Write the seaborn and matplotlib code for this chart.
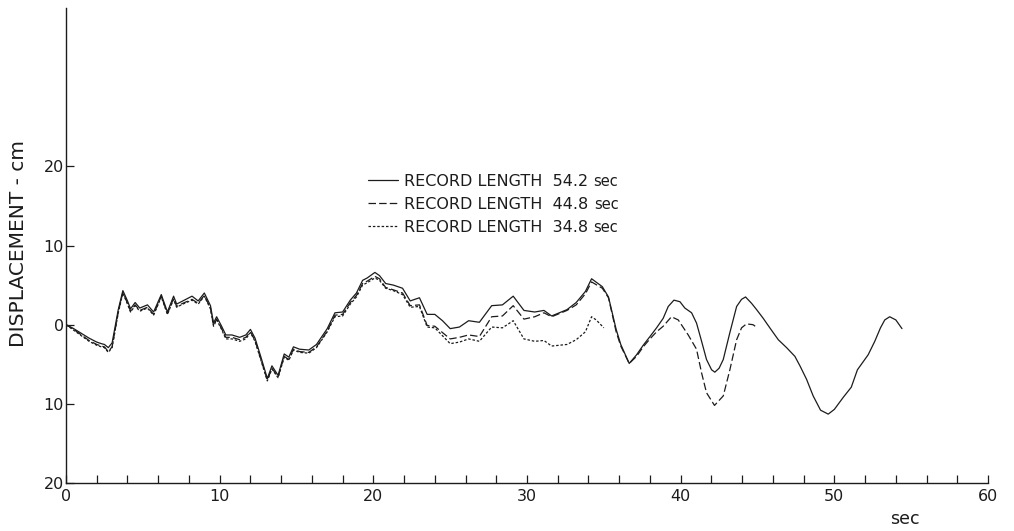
import matplotlib
matplotlib.use("Agg")
import matplotlib.pyplot as plt
import seaborn as sns
import pandas as pd

# time points (sec) common to all three records, up to 34.2 s
t_shared = [0.0, 0.5, 1.0, 1.5, 2.0, 2.3, 2.5, 2.75, 3.0, 3.4, 3.7, 4.0, 4.2, 4.5, 4.8,
            5.3, 5.7, 6.2, 6.6, 7.0, 7.2, 7.6, 8.2, 8.6, 9.0, 9.4, 9.6, 9.8, 10.1, 10.4,
            10.8, 11.3, 11.7, 12.0, 12.3, 12.7, 13.1, 13.4, 13.8, 14.2, 14.5, 14.8, 15.2,
            15.8, 16.3, 17.0, 17.5, 18.0, 18.5, 18.9, 19.3, 19.6, 20.1, 20.4, 20.8, 21.3,
            21.9, 22.4, 23.0, 23.5, 24.0, 24.5, 25.0, 25.6, 26.2, 26.9, 27.7, 28.4, 29.1,
            29.8, 30.5, 31.1, 31.6, 32.6, 33.2, 33.8, 34.2]

# record length 54.2 sec
t_542 = t_shared + [34.9, 35.3, 35.8, 36.1, 36.65, 37.13, 37.56, 38.0, 38.43, 38.86,
                    39.19, 39.56, 39.95, 40.27, 40.71, 41.03, 41.36, 41.68, 42.01, 42.22,
                    42.5, 42.77, 43.2, 43.64, 43.96, 44.22, 44.61, 44.94, 45.37, 45.8,
                    46.35, 46.89, 47.43, 47.76, 48.19, 48.62, 49.1, 49.6, 50.0, 50.57,
                    51.1, 51.5, 52.2, 52.63, 53.0, 53.28, 53.6, 54.0, 54.4]
d_542 = [0.0, -0.5, -1.1, -1.7, -2.2, -2.4, -2.5, -2.9, -2.3, 1.9, 4.3, 3.0, 2.0, 2.8, 2.1,
         2.5, 1.6, 3.8, 1.6, 3.6, 2.6, 3.0, 3.6, 3.0, 4.0, 2.4, 0.2, 1.0, -0.1, -1.3,
         -1.3, -1.6, -1.3, -0.6, -1.7, -4.2, -6.8, -5.2, -6.4, -3.7, -4.1, -2.8, -3.1,
         -3.2, -2.5, -0.5, 1.5, 1.6, 3.1, 4.0, 5.6, 5.9, 6.6, 6.2, 5.2, 5.0,
         4.6, 3.0, 3.4, 1.3, 1.3, 0.5, -0.5, -0.3, 0.5, 0.3, 2.4, 2.5, 3.6,
         1.8, 1.6, 1.8, 1.1, 1.9, 2.8, 4.2, 5.8,
         4.8, 3.5, -0.6, -2.5, -4.9, -3.8, -2.6, -1.5, -0.4, 0.8,
         2.3, 3.1, 2.9, 2.1, 1.5, 0.2, -2.1, -4.4, -5.7, -6.0,
         -5.5, -4.4, -1.0, 2.3, 3.2, 3.5, 2.7, 1.9, 0.8, -0.4,
         -1.9, -2.9, -4.0, -5.2, -6.9, -9.0, -10.8, -11.3, -10.7, -9.2,
         -7.9, -5.7, -3.8, -2.1, -0.4, 0.6, 1.0, 0.6, -0.5]

# record length 44.8 sec
t_448 = t_shared + [34.9, 35.3, 35.8, 36.1, 36.65, 37.13, 37.56, 38.0, 38.43, 38.86,
                    39.4, 39.84, 40.49, 41.03, 41.36, 41.68, 42.2, 42.77, 43.2, 43.64,
                    43.96, 44.28, 44.7, 45.0]
d_448 = [0.0, -0.6, -1.3, -2.0, -2.5, -2.7, -2.8, -3.4, -2.8, 1.6, 4.1, 2.7, 1.7, 2.5, 1.8,
         2.2, 1.3, 3.6, 1.4, 3.3, 2.3, 2.7, 3.2, 2.7, 3.7, 2.1, -0.1, 0.7, -0.4, -1.6,
         -1.6, -1.9, -1.6, -0.9, -2.0, -4.5, -7.0, -5.5, -6.6, -4.0, -4.4, -3.1, -3.4,
         -3.5, -2.8, -0.8, 1.2, 1.3, 2.8, 3.7, 5.2, 5.5, 6.1, 5.8, 4.7, 4.4,
         4.0, 2.4, 2.5, -0.1, -0.2, -1.0, -1.8, -1.6, -1.3, -1.5, 1.0, 1.1, 2.4,
         0.7, 1.0, 1.5, 1.0, 1.8, 2.5, 3.9, 5.4,
         4.6, 3.4, -0.9, -2.7, -4.9, -4.0, -2.8, -1.8, -0.9, -0.2,
         1.0, 0.6, -1.3, -3.1, -6.1, -8.6, -10.2, -9.0, -5.7, -1.9,
         -0.4, 0.1, 0.0, -0.4]

# record length 34.8 sec
t_348 = t_shared + [34.5, 35.0]
d_348 = [0.0, -0.7, -1.4, -2.1, -2.6, -2.8, -2.9, -3.5, -2.9, 1.5, 4.0, 2.6, 1.6, 2.4, 1.7,
         2.1, 1.2, 3.5, 1.3, 3.2, 2.2, 2.6, 3.1, 2.6, 3.6, 2.0, -0.2, 0.6, -0.5, -1.8,
         -1.8, -2.1, -1.8, -1.0, -2.1, -4.6, -7.1, -5.6, -6.7, -4.1, -4.5, -3.2, -3.5,
         -3.6, -2.9, -0.9, 1.0, 1.1, 2.6, 3.5, 5.0, 5.3, 5.9, 5.6, 4.6, 4.3,
         3.8, 2.2, 2.3, -0.3, -0.4, -1.4, -2.4, -2.2, -1.8, -2.1, -0.3, -0.4, 0.5,
         -1.8, -2.1, -2.0, -2.7, -2.5, -1.9, -0.9, 1.0,
         0.6, -0.4]

records = ["54.2", "44.8", "34.8"]
xtick_vals = [0, 10, 20, 30, 40, 50, 60]
ytick_vals = [-20, -10, 0, 10, 20]
ytick_labels = ["20", "10", "0", "10", "20"]

sns.set_style("ticks")
plt.rcParams["font.family"] = ["DejaVu Sans"]

ink = "#1c1c1c"
fig = plt.figure(figsize=(10.14, 5.31), dpi=100)
ax = fig.add_axes([0.0651, 0.0904, 0.9093, 0.8945])

series = {"54.2": (t_542, d_542), "44.8": (t_448, d_448), "34.8": (t_348, d_348)}
styles = {"54.2": "-", "44.8": (0, (6, 2.5)), "34.8": (0, (2, 1.5))}

for rec in records:
    t, d = series[rec]
    df = pd.DataFrame({"t": t, "d": d})
    sns.lineplot(data=df, x="t", y="d", ax=ax, color=ink, linewidth=0.9,
                 linestyle=styles[rec], sort=False, estimator=None,
                 label=f"RECORD LENGTH  {rec}")

ax.set_xlim(0, 60)
ax.set_ylim(-20, 40)
ax.set_xticks(xtick_vals)
ax.set_xticks(range(0, 61, 2), minor=True)
ax.set_yticks(ytick_vals)
ax.set_yticklabels(ytick_labels)
ax.tick_params(axis="both", which="both", direction="in", length=5.5, width=0.9,
               color=ink, labelsize=11.5, labelcolor=ink)
ax.tick_params(axis="y", pad=1.5)
ax.tick_params(axis="x", pad=4)
ax.set_xlabel("")
ax.set_ylabel("")
sns.despine(ax=ax)
for s in ["left", "bottom"]:
    ax.spines[s].set_linewidth(1.0)
    ax.spines[s].set_color(ink)

leg = ax.legend(loc="upper left", bbox_to_anchor=(0.3275, 0.651), frameon=False,
                fontsize=11.5, handlelength=1.9, handletextpad=0.35,
                labelspacing=0.5, borderaxespad=0, borderpad=0)
# smaller "sec" after each legend label; drawn after the legend so it follows it
for txt in leg.get_texts():
    txt.set_color(ink)
    ax.annotate("sec", xy=(1, 0), xycoords=txt, xytext=(4, 0),
                textcoords="offset points", fontsize=10.5, va="bottom",
                ha="left", color=ink, zorder=10)

fig.text(0.018, 0.542, "DISPLACEMENT - cm", rotation=90, ha="center",
         va="center", fontsize=14.5, color=ink)
ax.text(54.6, -0.075, "sec", transform=ax.get_xaxis_transform(), ha="center",
        va="center", fontsize=12.5, color=ink)

fig.savefig("out.png", dpi=100)
